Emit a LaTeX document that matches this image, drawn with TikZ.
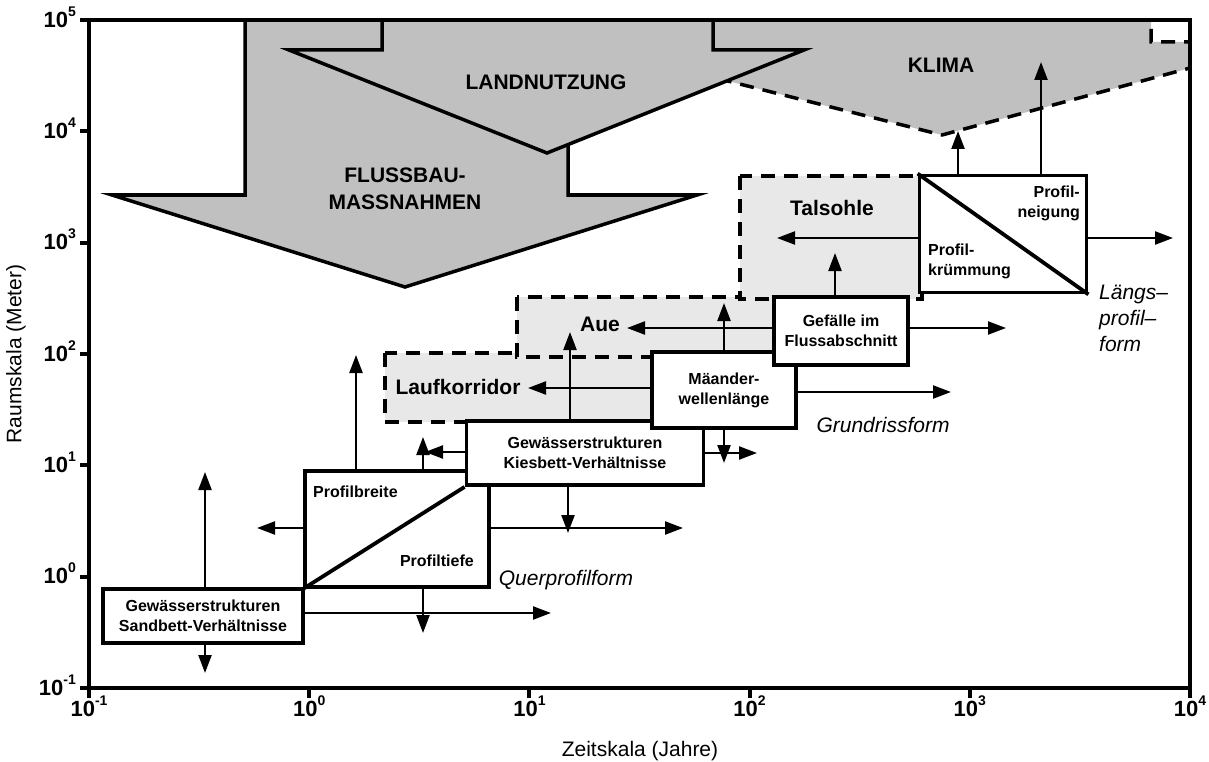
\documentclass[tikz,border=0pt]{standalone}
\usepackage{fontspec}
\setmainfont{Liberation Sans}
\usetikzlibrary{arrows.meta}
\definecolor{klimagray}{HTML}{C0C0C0}
\definecolor{zonegray}{HTML}{E8E8E8}
\newcommand{\bxfont}{\fontsize{16}{20}\selectfont\bfseries}
\newcommand{\zonefont}{\fontsize{21}{27}\selectfont\bfseries}
\newcommand{\formfont}{\fontsize{21}{26}\selectfont\itshape}
\newcommand{\tickfont}{\fontsize{22}{24}\selectfont\bfseries}
\newcommand{\tickexp}[1]{10\raisebox{0.5em}{\fontsize{14}{14}\selectfont#1}}

\begin{document}
\begin{tikzpicture}[x=1pt,y=-1pt,>={Triangle[length=18pt,width=13pt]},line join=miter,
  box/.style={draw,line width=3.8pt,fill=white,inner sep=0pt,font=\bxfont,align=center},
  boxtxt/.style={inner sep=0pt,font=\bxfont},
  zone/.style={draw,fill=zonegray,line width=3.5pt,dash pattern=on 14pt off 9pt},
  bigarrow/.style={draw,fill=klimagray,line width=3.5pt},
  zonetxt/.style={inner sep=0pt,font=\zonefont},
  formtxt/.style={inner sep=0pt,font=\formfont},
  arr/.style={->,line width=2.3pt}]
\useasboundingbox (0,0) rectangle (1209,762);

% driving forces
\path[bigarrow,dash pattern=on 14pt off 9pt] (700,20) -- (1151,20) -- (1151,42) -- (1190,42)
  -- (1190,68) -- (942,135) -- (700,74) -- cycle;
\path[bigarrow] (245,20) -- (245,195) -- (112,195) -- (405,287) -- (697,195)
  -- (568,195) -- (568,20) -- cycle;
\path[bigarrow] (382,20) -- (382,50) -- (289,50) -- (547,153) -- (804,50)
  -- (713,50) -- (713,20) -- cycle;
\node[zonetxt] (klimal) at (941,65) {KLIMA};
\node[zonetxt] (landl) at (546,82) {LANDNUTZUNG};
\node[zonetxt,align=center] (flussl) at (405,189) {FLUSSBAU-\\MASSNAHMEN};

% zones
\draw[zone] (385,353) rectangle (690,422);
\draw[zone] (517,297) rectangle (780,357);
\draw[zone] (740,176) rectangle (922,299);
\node[zonetxt] (laufl) at (458,387) {Laufkorridor};
\node[zonetxt] (auel) at (600,324) {Aue};
\node[zonetxt] (tall) at (832,208) {Talsohle};

% boxes
\node[box,minimum width=200pt,minimum height=54pt] (sand) at (203,616) {Gewässerstrukturen\\Sandbett-Verhältnisse};
\node[box,minimum width=184pt,minimum height=116pt] (prof) at (397,529) {};
\node[box,minimum width=237pt,minimum height=64pt] (kies) at (585,453) {Gewässerstrukturen\\Kiesbett-Verhältnisse};
\node[box,minimum width=144pt,minimum height=76pt] (mae) at (724,390) {Mäander-\\wellenlänge};
\node[box,minimum width=134pt,minimum height=68pt] (gef) at (841,331) {Gefälle im\\Flussabschnitt};
\node[box,minimum width=167pt,minimum height=117pt] (laengs) at (1003,234) {};
\draw[line width=3.8pt] (prof.south west) -- (kies.south west);
\draw[line width=3.8pt] (laengs.north west) -- (laengs.south east);
\node[boxtxt,anchor=west] (breite) at (313,492) {Profilbreite};
\node[boxtxt,anchor=east] (tiefe) at (474,561) {Profiltiefe};
\node[boxtxt,anchor=east,align=right] (neig) at (1080,203) {Profil-\\neigung};
\node[boxtxt,anchor=west,align=left] (kruem) at (928,261) {Profil-\\krümmung};

% arrow ends
\coordinate (s1) at (205,472);
\coordinate (s2) at (205,673);
\coordinate (s3) at (551,613);
\coordinate (p1) at (356,355);
\coordinate (p2) at (257,528);
\coordinate (p3) at (683,528);
\coordinate (p4) at (423,633);
\coordinate (p5) at (423,437);
\coordinate (k1) at (425,452);
\coordinate (k2) at (570,332);
\coordinate (k3) at (568,533);
\coordinate (k4) at (757,453);
\coordinate (m1) at (724,303);
\coordinate (m2) at (724,463);
\coordinate (m3) at (951,392);
\coordinate (m4) at (528,388);
\coordinate (g1) at (835,253);
\coordinate (g2) at (1006,328);
\coordinate (g3) at (627,328);
\coordinate (l1) at (777,238);
\coordinate (l2) at (1173,238);
\coordinate (l3) at (958,131);
\coordinate (l4) at (1041,62);

\path (sand.north -| s1) edge[arr] (s1);
\path (sand.south -| s2) edge[arr] (s2);
\path (sand.east |- s3) edge[arr] (s3);
\path (prof.north -| p1) edge[arr] (p1);
\path (prof.west |- p2) edge[arr] (p2);
\path (prof.east |- p3) edge[arr] (p3);
\path (prof.south -| p4) edge[arr] (p4);
\path (prof.north -| p5) edge[arr] (p5);
\path (kies.west |- k1) edge[arr] (k1);
\path (kies.north -| k2) edge[arr] (k2);
\path (kies.south -| k3) edge[arr] (k3);
\path (kies.east |- k4) edge[arr] (k4);
\path (mae.north -| m1) edge[arr] (m1);
\path (mae.south -| m2) edge[arr] (m2);
\path (mae.east |- m3) edge[arr] (m3);
\path (mae.west |- m4) edge[arr] (m4);
\path (gef.north -| g1) edge[arr] (g1);
\path (gef.east |- g2) edge[arr] (g2);
\path (gef.west |- g3) edge[arr] (g3);
\path (laengs.west |- l1) edge[arr] (l1);
\path (laengs.east |- l2) edge[arr] (l2);
\path (laengs.north -| l3) edge[arr] (l3);
\path (laengs.north -| l4) edge[arr] (l4);

% form labels
\node[formtxt] (querl) at (566,580) {Querprofilform};
\node[formtxt] (grundl) at (883,425) {Grundrissform};
\node[formtxt,anchor=west,align=left] (laengsl) at (1099,318) {Längs--\\profil--\\form};

% axes
\draw[line width=4pt] (89,20) rectangle (1190,688);
\foreach \e [count=\k from 0] in {-1,0,1,2,3,4,5} {
  \draw[line width=4pt] (80,{688-111.333*\k}) -- (89,{688-111.333*\k});
  \node[anchor=east,inner sep=0pt,font=\tickfont] (ylab\k) at (76,{685-111.333*\k}) {\tickexp{\e}};
}
\foreach \e [count=\k from 0] in {-1,0,1,2,3,4} {
  \draw[line width=4pt] ({89+220.2*\k},688) -- ({89+220.2*\k},698);
  \node[anchor=north,inner sep=0pt,font=\tickfont] (xlab\k) at ({89+220.2*\k},696) {\tickexp{\e}};
}
\node[font=\fontsize{21}{24}\selectfont] (xtitle) at (640,751) {Zeitskala (Jahre)};
\node[font=\fontsize{21}{24}\selectfont,rotate=90] (ytitle) at (16,354) {Raumskala (Meter)};
\end{tikzpicture}
\end{document}
